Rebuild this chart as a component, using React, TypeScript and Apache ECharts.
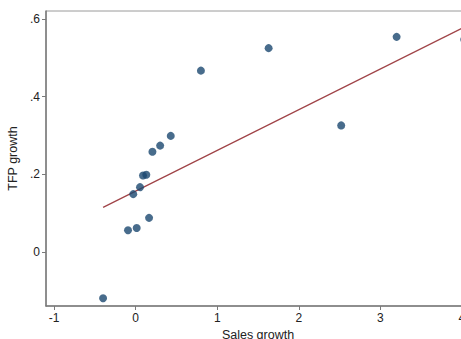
import React, { useEffect, useRef } from "react";
import * as echarts from "echarts";

const salesGrowth = [-0.40, -0.094, 0.012, 0.164, -0.03, 0.053, 0.09, 0.13, 0.205, 0.30, 0.43, 0.80, 1.63, 2.52, 3.20, 4.03];
const tfpGrowth = [-0.119, 0.056, 0.062, 0.088, 0.149, 0.167, 0.197, 0.199, 0.258, 0.274, 0.299, 0.467, 0.525, 0.326, 0.554, 0.547];
const fitX = [-0.40, 4.04];
const fitY = [0.115, 0.580];
const xTicks = [-1, 0, 1, 2, 3, 4];
const xTickLabels = ["-1", "0", "1", "2", "3", "4"];
const yTicks = [0, 0.2, 0.4, 0.6];
const yTickLabels = ["0", ".2", ".4", ".6"];

export default function App() {
  const ref = useRef<HTMLDivElement>(null);
  useEffect(() => {
    document.body.style.margin = "0";
    const chart = echarts.init(ref.current!, null, { renderer: "svg" });
    const font = "'Liberation Sans', Arial, sans-serif";
    const axisColor = "#7a7a7a";
    chart.setOption({
      animation: false,
      backgroundColor: "#ffffff",
      grid: {
        left: 46,
        top: 11,
        width: 424,
        height: 295,
        show: true,
        borderColor: "#9a9a9a",
        borderWidth: 1,
        containLabel: false,
        outerBoundsMode: "none",
      },
      xAxis: {
        type: "value",
        min: -1.1,
        max: 4.1,
        name: "Sales growth",
        nameLocation: "middle",
        nameGap: 20,
        nameTextStyle: { fontFamily: font, fontSize: 12.5, color: "#222" },
        axisLine: { show: true, onZero: false, lineStyle: { color: axisColor, width: 1.5 } },
        axisTick: { show: true, length: 4, lineStyle: { color: axisColor }, customValues: xTicks },
        axisLabel: {
          fontFamily: font,
          fontSize: 12,
          color: "#222",
          margin: 6,
          customValues: xTicks,
          formatter: (v: number) => {
            const i = xTicks.findIndex((t) => Math.abs(t - v) < 1e-9);
            return i >= 0 ? xTickLabels[i] : "";
          },
        },
        splitLine: { show: false },
      },
      yAxis: {
        type: "value",
        min: -0.139,
        max: 0.6206,
        name: "TFP growth",
        nameLocation: "middle",
        nameGap: 24,
        nameRotate: 90,
        nameTextStyle: { fontFamily: font, fontSize: 12.5, color: "#222" },
        axisLine: { show: true, onZero: false, lineStyle: { color: axisColor, width: 1.5 } },
        axisTick: { show: true, length: 4, lineStyle: { color: axisColor }, customValues: yTicks },
        axisLabel: {
          fontFamily: font,
          fontSize: 12,
          color: "#222",
          margin: 6,
          customValues: yTicks,
          formatter: (v: number) => {
            const i = yTicks.findIndex((t) => Math.abs(t - v) < 1e-9);
            return i >= 0 ? yTickLabels[i] : "";
          },
        },
        splitLine: { show: false },
      },
      series: [
        {
          type: "line",
          data: fitX.map((x, i) => [x, fitY[i]]),
          showSymbol: false,
          symbol: "none",
          lineStyle: { color: "#a04448", width: 1.3 },
          z: 2,
        },
        {
          type: "scatter",
          data: salesGrowth.map((x, i) => [x, tfpGrowth[i]]),
          symbolSize: 8,
          itemStyle: { color: "#1a476f" },
          z: 3,
        },
      ],
    });
    return () => chart.dispose();
  }, []);
  return <div ref={ref} style={{ width: 461, height: 339 }} />;
}
